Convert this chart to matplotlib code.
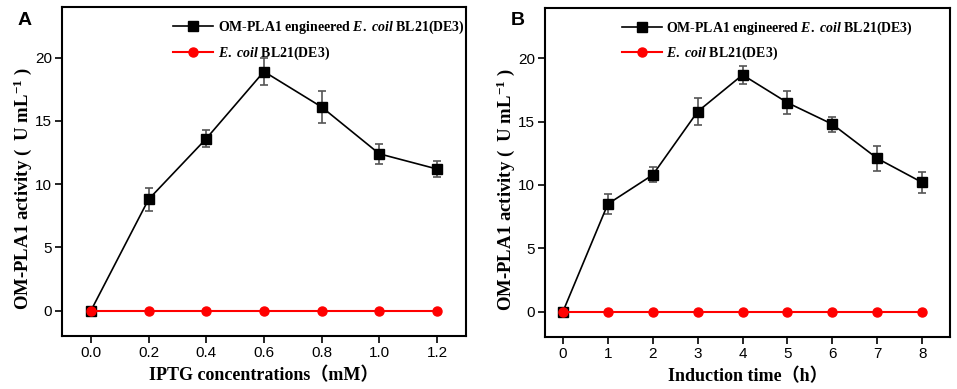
import matplotlib
matplotlib.use('Agg')
import matplotlib.pyplot as plt

# panel A: IPTG concentration
iptg = [0.0, 0.2, 0.4, 0.6, 0.8, 1.0, 1.2]
act_a = [0.0, 8.8, 13.6, 18.9, 16.1, 12.4, 11.2]
err_a = [0.0, 0.9, 0.7, 1.1, 1.3, 0.8, 0.6]
ctrl_a = [0, 0, 0, 0, 0, 0, 0]

# panel B: induction time
hours = [0, 1, 2, 3, 4, 5, 6, 7, 8]
act_b = [0.0, 8.5, 10.8, 15.8, 18.7, 16.5, 14.8, 12.1, 10.2]
err_b = [0.0, 0.8, 0.6, 1.1, 0.7, 0.9, 0.6, 1.0, 0.8]
ctrl_b = [0, 0, 0, 0, 0, 0, 0, 0, 0]

lab1 = r'OM-PLA1 engineered $\mathit{E.\ coil}$ BL21(DE3)'
lab2 = r'$\mathit{E.\ coil}$ BL21(DE3)'

plt.rcParams['mathtext.fontset'] = 'custom'
plt.rcParams['mathtext.it'] = 'Liberation Serif:italic:bold'
plt.rcParams['mathtext.rm'] = 'Liberation Serif:bold'
plt.rcParams['mathtext.bf'] = 'Liberation Serif:bold'
plt.rcParams['font.family'] = ['Liberation Sans', 'DejaVu Sans']

fig = plt.figure(figsize=(9.57, 3.89), dpi=100)
axA = fig.add_axes([0.0648, 0.136, 0.422, 0.846])
axB = fig.add_axes([0.5695, 0.134, 0.4232, 0.846])

panels = [
    (axA, iptg, act_a, err_a, ctrl_a, (-0.1, 1.3), iptg,
     ['0.0', '0.2', '0.4', '0.6', '0.8', '1.0', '1.2'], 'IPTG concentrations（mM）', 'A', 0.026, 0.275),
    (axB, hours, act_b, err_b, ctrl_b, (-0.4, 8.62), hours,
     [str(h) for h in hours], 'Induction time（h）', 'B', 0.541, 0.19),
]

for ax, x, y, e, c, xl, xt, xtl, xlab, letter, px, lx in panels:
    ax.errorbar(x, y, yerr=e, fmt='none', ecolor='#555555', elinewidth=1.2,
                capsize=3, capthick=1.2, zorder=2)
    ax.plot(x, y, color='black', marker='s', markersize=6.5, lw=1.2, label=lab1, zorder=3)
    ax.plot(x, c, color='red', marker='o', markersize=6.5, lw=1.5, label=lab2, zorder=4)
    ax.set_xlim(*xl)
    ax.set_ylim(-2, 24)
    ax.set_xticks(xt)
    ax.set_xticklabels(xtl)
    ax.set_yticks([0, 5, 10, 15, 20])
    ax.tick_params(direction='out', length=5, width=1.2, pad=2, labelsize=11,
                   top=False, right=False)
    for s in ax.spines.values():
        s.set_linewidth(1.5)
    ax.set_xlabel(xlab, family=['Liberation Serif', 'Noto Sans CJK SC'],
                  fontweight='bold', fontsize=13, labelpad=5)
    ax.set_ylabel(r'OM-PLA1 activity (  U mL$^{\mathbf{-1}}$ )', family='Liberation Serif',
                  fontweight='bold', fontsize=13.5)
    ax.yaxis.set_label_coords(-0.069, 0.447)
    ax.legend(loc='upper left', bbox_to_anchor=(lx, 0.965), frameon=False,
              prop={'family': 'Liberation Serif', 'weight': 'bold', 'size': 10},
              handlelength=2.9, handletextpad=0.3, labelspacing=0.6,
              borderaxespad=0, borderpad=0)
    fig.text(px, 0.948, letter, fontsize=14, fontweight='bold',
             family='Liberation Sans', ha='center', va='center')

fig.savefig('out.png', dpi=100)
